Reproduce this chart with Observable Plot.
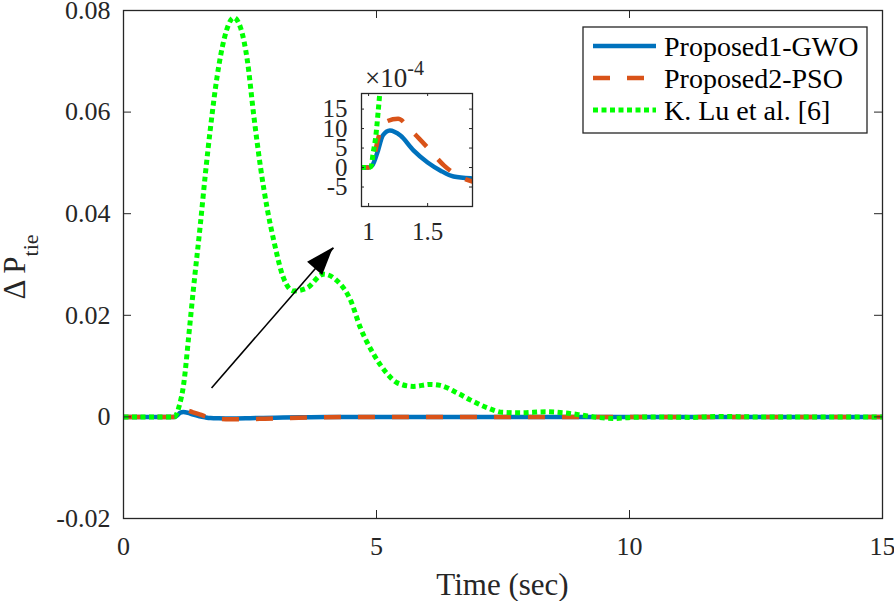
<!DOCTYPE html>
<html><head><meta charset="utf-8">
<script src="https://cdn.jsdelivr.net/npm/d3@7"></script>
<script src="https://cdn.jsdelivr.net/npm/@observablehq/plot@0.6"></script>
<style>
body{margin:0;background:#fff;}
#wrap{position:relative;width:894px;height:601px;}
#wrap svg{position:absolute;overflow:visible;}
#wrap svg text{font-family:"Liberation Serif","Times New Roman",serif !important;}
</style></head><body><div id="wrap"></div>
<script>
// ---- data ----
const seriesNames = ["Proposed1-GWO", "Proposed2-PSO", "K. Lu et al. [6]"];
const seriesColors = ["#0072BD", "#D95319", "#00FF00"];

const xTicks = [0, 5, 10, 15];
const xTickLabels = ["0", "5", "10", "15"];
const yTicks = [-0.02, 0, 0.02, 0.04, 0.06, 0.08];
const yTickLabels = ["-0.02", "0", "0.02", "0.04", "0.06", "0.08"];

const insetXTicks = [1, 1.5];
const insetXTickLabels = ["1", "1.5"];
const insetYTicks = [-0.0005, 0, 0.0005, 0.0010, 0.0015];
const insetYTickLabels = ["-5", "0", "5", "10", "15"];

const gwoTime  = [0, 1.0, 1.03, 1.08, 1.12, 1.18, 1.27, 1.38, 1.5, 1.61, 1.72, 1.88, 2.1, 2.5, 3.0, 3.5, 4.0, 5.0, 15];
const gwoValue = [0, 0, 0.00005, 0.00044, 0.00082, 0.00095, 0.00082, 0.00044, 0.00013, -0.00008, -0.00023, -0.00028, -0.0003, -0.00025, -0.00015, -0.00008, -0.00003, 0, 0];

const psoTime  = [0, 1.0, 1.03, 1.07, 1.10, 1.15, 1.25, 1.36, 1.5, 1.64, 1.75, 1.88, 2.1, 2.4, 2.8, 3.3, 4.0, 5.0, 15];
const psoValue = [0, 0, 0.0001, 0.0006, 0.00095, 0.00118, 0.00125, 0.00095, 0.00051, 0.00005, -0.0002, -0.00036, -0.00045, -0.00045, -0.00035, -0.0002, -0.00008, 0, 0];

const luTime  = [0, 1.0, 1.02, 1.04, 1.06, 1.08, 1.10, 1.19, 1.29, 1.38, 1.52, 1.62, 1.72, 1.85, 1.98, 2.18, 2.31, 2.45, 2.57, 2.71, 2.84, 2.97, 3.16, 3.36, 3.63, 3.95, 4.22, 4.49, 4.68, 4.94, 5.21, 5.41, 5.73, 6.07, 6.26, 6.6, 6.86, 7.19, 7.49, 7.85, 8.34, 8.7, 9.03, 9.37, 9.7, 10.03, 10.55, 11.2, 11.8, 12.5, 15];
const luValue = [0, 0, 0.00002, 0.0004, 0.00077, 0.0014, 0.0021, 0.0065, 0.016, 0.025, 0.038, 0.048, 0.057, 0.067, 0.074, 0.0786, 0.0767, 0.070, 0.0597, 0.049, 0.041, 0.0347, 0.0274, 0.0248, 0.0254, 0.0281, 0.0268, 0.0229, 0.0176, 0.0124, 0.0085, 0.0067, 0.006, 0.0064, 0.0062, 0.0047, 0.0033, 0.0018, 0.0009, 0.0008, 0.001, 0.0008, 0.0004, -0.0001, -0.0003, -0.0001, 0, -0.0001, 0.0001, 0, 0];

const arrowFrom = [1.74, 0.0057];
const arrowTo = [4.15, 0.0333];

// ---- build ----
const rows = (T, V) => T.map((t, i) => ({t, v: V[i]}));
const gwo = rows(gwoTime, gwoValue);
const pso = rows(psoTime, psoValue);
const lu = rows(luTime, luValue);

const FONT = '"Liberation Serif", "Times New Roman", serif';
const INK = "#262626";
const lineStyles = [
  {stroke: seriesColors[0], strokeWidth: 4.5, strokeLinecap: "butt"},
  {stroke: seriesColors[1], strokeWidth: 4.5, strokeDasharray: "17,17", strokeLinecap: "butt"},
  {stroke: seriesColors[2], strokeWidth: 5, strokeDasharray: "5,3.5", strokeLinecap: "butt"}
];

const W = 894, H = 601, ML = 123, MR = 12, MT = 10, MB = 83;
const PW = W - ML - MR, PH = H - MT - MB, TL = 8;

const main = Plot.plot({
  width: W, height: H,
  marginLeft: ML, marginRight: MR, marginTop: MT, marginBottom: MB,
  style: {fontFamily: FONT, fontSize: "26px", color: INK, background: "white"},
  x: {domain: [0, 15]},
  y: {domain: [-0.02, 0.08]},
  marks: [
    Plot.line(gwo, {x: "t", y: "v", curve: "monotone-x", ...lineStyles[0]}),
    Plot.line(pso, {x: "t", y: "v", curve: "monotone-x", ...lineStyles[1]}),
    Plot.line(lu, {x: "t", y: "v", curve: "monotone-x", ...lineStyles[2]}),
    Plot.link([{a: arrowFrom, b: arrowTo}], {x1: d => d.a[0], y1: d => d.a[1], x2: d => d.b[0], y2: d => d.b[1], stroke: "black", strokeWidth: 1.6}),
    Plot.tickY(yTicks, {y: d => d, stroke: INK, insetRight: PW - TL}),
    Plot.tickY(yTicks, {y: d => d, stroke: INK, insetLeft: PW - TL}),
    Plot.tickX(xTicks, {x: d => d, stroke: INK, insetTop: PH - TL}),
    Plot.tickX(xTicks, {x: d => d, stroke: INK, insetBottom: PH - TL}),
    Plot.axisY({ticks: yTicks, tickFormat: d => yTickLabels[yTicks.indexOf(d)], tickSize: 0, tickPadding: 13, label: null, fontSize: 26, fontVariant: "normal"}),
    Plot.axisX({ticks: xTicks, tickFormat: d => xTickLabels[xTicks.indexOf(d)], tickSize: 0, tickPadding: 18, label: null, fontSize: 26, fontVariant: "normal"}),
    Plot.frame({stroke: INK, strokeWidth: 1.3})
  ]
});
main.style.left = "0px"; main.style.top = "0px";
document.getElementById("wrap").appendChild(main);

const ms = d3.select(main);
// arrow head
{
  const sx = main.scale("x"), sy = main.scale("y");
  const p1 = [sx.apply(arrowFrom[0]), sy.apply(arrowFrom[1])];
  const p2 = [sx.apply(arrowTo[0]), sy.apply(arrowTo[1])];
  const dx = p2[0] - p1[0], dy = p2[1] - p1[1], L = Math.hypot(dx, dy);
  const ux = dx / L, uy = dy / L, nx = -uy, ny = ux;
  const hl = 28, hw = 10;
  const bx = p2[0] - ux * hl, by = p2[1] - uy * hl;
  ms.append("polygon")
    .attr("points", [[p2[0], p2[1]], [bx + nx * hw, by + ny * hw], [bx - nx * hw, by - ny * hw]].map(p => p.join(",")).join(" "))
    .attr("fill", "black");
}
// axis labels
ms.append("text").attr("x", ML + PW / 2).attr("y", 595).attr("text-anchor", "middle")
  .attr("font-size", 31).attr("fill", INK).text("Time (sec)");
{
  const t = ms.append("text").attr("transform", `translate(25,${MT + PH / 2 + 3}) rotate(-90)`)
    .attr("text-anchor", "middle").attr("font-size", 31).attr("fill", INK);
  t.append("tspan").text("Δ P");
  t.append("tspan").attr("dy", 13).attr("font-size", 22).text("tie");
}
// legend
{
  const g = ms.append("g");
  g.append("rect").attr("x", 583).attr("y", 27).attr("width", 284).attr("height", 106)
    .attr("fill", "white").attr("stroke", INK).attr("stroke-width", 1.3);
  seriesNames.forEach((name, i) => {
    const yy = 46 + 32 * i;
    const s = lineStyles[i];
    g.append("line").attr("x1", 593).attr("x2", 656).attr("y1", yy).attr("y2", yy)
      .attr("stroke", s.stroke).attr("stroke-width", s.strokeWidth)
      .attr("stroke-dasharray", s.strokeDasharray || null);
    g.append("text").attr("x", 664).attr("y", yy + 10).attr("text-anchor", "start")
      .attr("font-size", 28).attr("fill", "black").text(name);
  });
}

// ---- inset ----
const IW = 200, IH = 200, IML = 61, IMR = 28, IMT = 38, IMB = 49;
const IPW = IW - IML - IMR, IPH = IH - IMT - IMB, ITL = 3;
const inset = Plot.plot({
  width: IW, height: IH,
  marginLeft: IML, marginRight: IMR, marginTop: IMT, marginBottom: IMB,
  style: {fontFamily: FONT, fontSize: "24px", color: INK, background: "transparent", overflow: "visible"},
  x: {domain: [0.94, 1.88]},
  y: {domain: [-0.001, 0.0019]},
  marks: [
    Plot.frame({fill: "white"}),
    Plot.line(gwo, {x: "t", y: "v", curve: "monotone-x", clip: true, ...lineStyles[0]}),
    Plot.line(pso, {x: "t", y: "v", curve: "monotone-x", clip: true, ...lineStyles[1]}),
    Plot.line(lu, {x: "t", y: "v", curve: "monotone-x", clip: true, ...lineStyles[2]}),
    Plot.tickY(insetYTicks, {y: d => d, stroke: INK, insetRight: IPW - ITL}),
    Plot.tickY(insetYTicks, {y: d => d, stroke: INK, insetLeft: IPW - ITL}),
    Plot.tickX(insetXTicks, {x: d => d, stroke: INK, insetTop: IPH - ITL}),
    Plot.tickX(insetXTicks, {x: d => d, stroke: INK, insetBottom: IPH - ITL}),
    Plot.axisY({ticks: insetYTicks, tickFormat: d => insetYTickLabels[insetYTicks.indexOf(d)], tickSize: 0, tickPadding: 14, label: null, fontSize: 25, fontVariant: "normal"}),
    Plot.axisX({ticks: insetXTicks, tickFormat: d => insetXTickLabels[insetXTicks.indexOf(d)], tickSize: 0, tickPadding: 16, label: null, fontSize: 25, fontVariant: "normal"}),
    Plot.frame({stroke: INK, strokeWidth: 1.3})
  ]
});
inset.style.left = "300px"; inset.style.top = "55px";
document.getElementById("wrap").appendChild(inset);
{
  const t = d3.select(inset).append("text").attr("x", 65).attr("y", 32).attr("text-anchor", "start")
    .attr("font-size", 27).attr("fill", INK);
  t.append("tspan").text("×10");
  t.append("tspan").attr("dy", -12).attr("font-size", 20).text("-4");
}
</script></body></html>
